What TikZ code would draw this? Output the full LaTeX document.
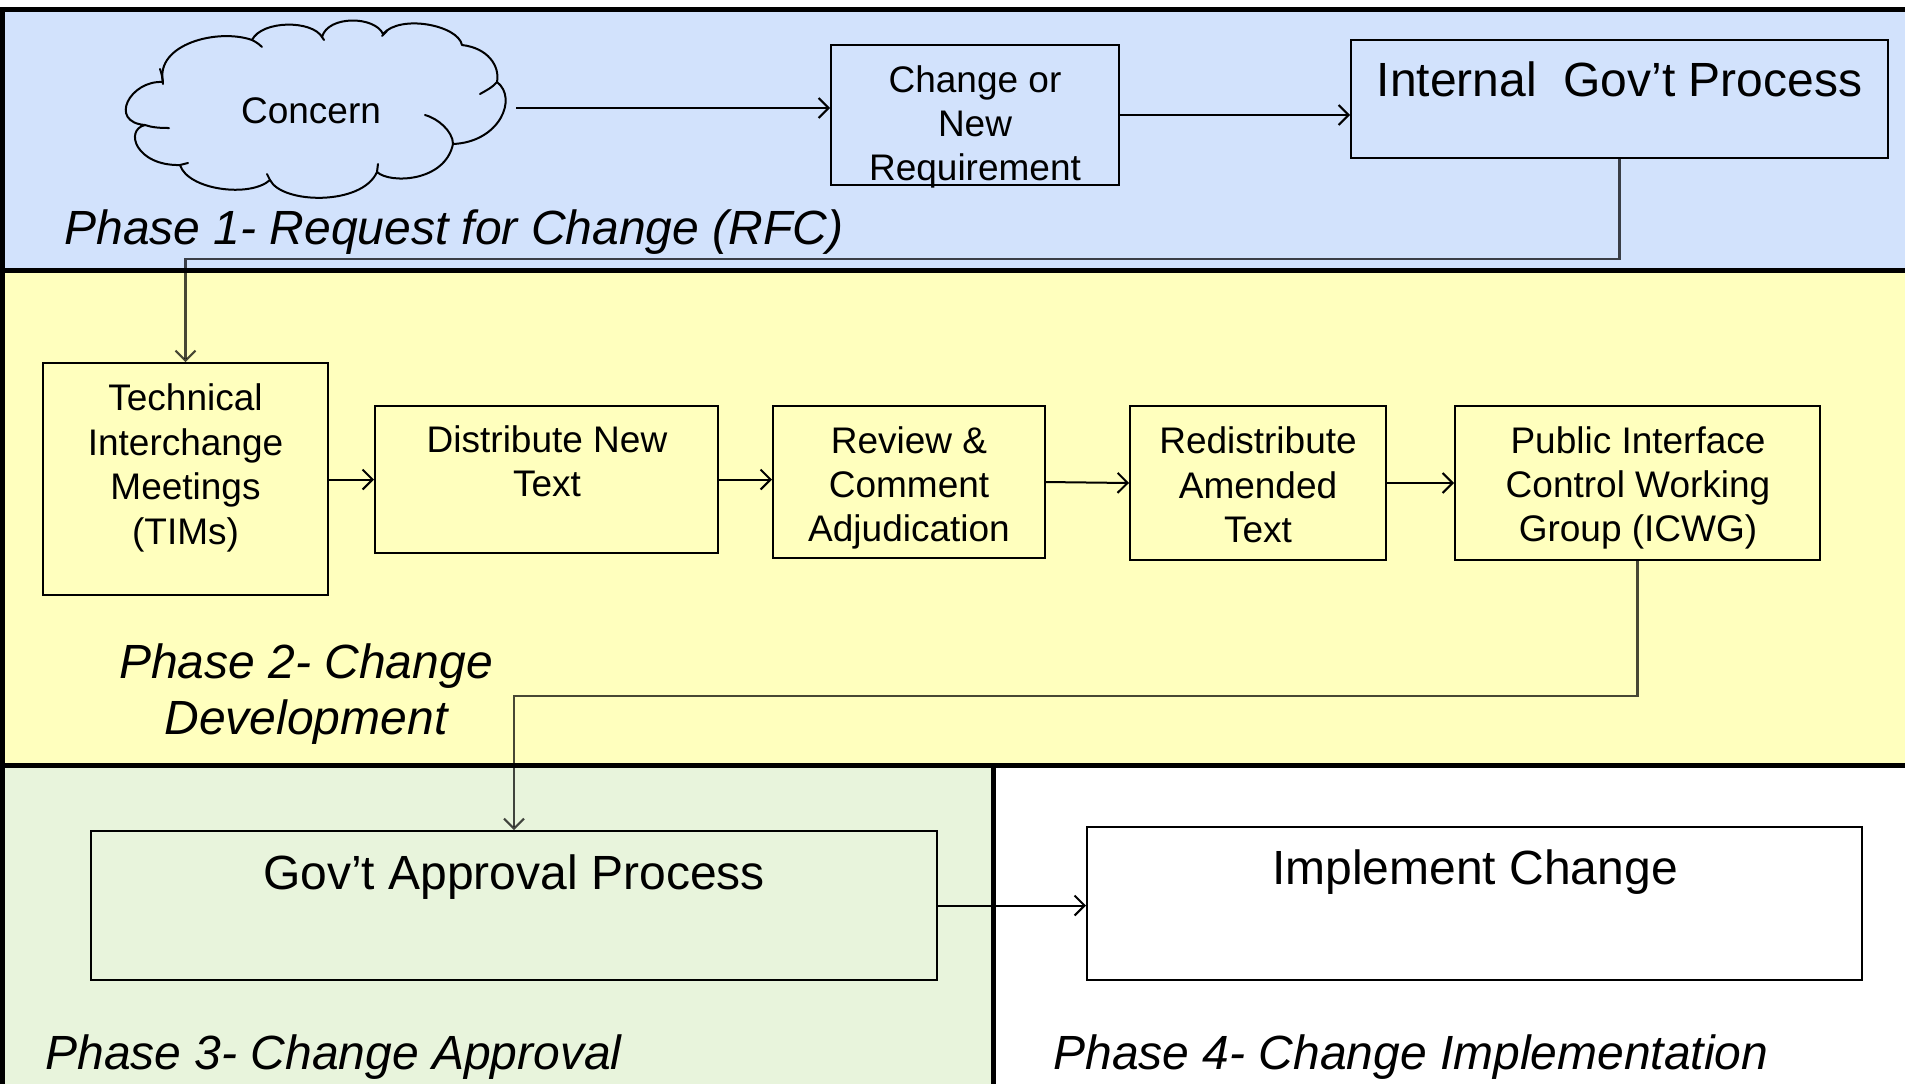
\documentclass[tikz,border=0pt]{standalone}
\usepackage{fontspec}
\setmainfont{Liberation Sans}
\usetikzlibrary{arrows.meta}
\definecolor{phblue}{RGB}{210,226,252}
\definecolor{phyellow}{RGB}{255,255,190}
\definecolor{phgreen}{RGB}{232,244,220}
\begin{document}
\begin{tikzpicture}[x=0.5pt,y=-0.5pt,
  box/.style={draw=black,line width=1pt,inner sep=0pt},
  txt/.style={font=\fontsize{18.5}{22.2}\selectfont,align=center,inner sep=0pt},
  bigtxt/.style={font=\fontsize{24}{28}\selectfont,inner sep=0pt},
  phase/.style={font=\fontsize{24}{28}\selectfont\itshape,inner sep=0pt},
  cloudline/.style={line width=1pt,line cap=round,line join=round},
  arr/.style={line width=1pt,-{Straight Barb[length=5pt,width=10pt]}},
  conn/.style={line width=1.05pt,draw=black,draw opacity=0.72,-{Straight Barb[length=5pt,width=10pt]}},
  sep/.style={line width=2.5pt}]
\useasboundingbox (0,0) rectangle (1905,1084);
% backgrounds
\fill[white] (0,0) rectangle (1905,1084);
\fill[phblue] (2,9) rectangle (1905,270);
\fill[phyellow] (2,270) rectangle (1905,765);
\fill[phgreen] (2,765) rectangle (993,1084);
% borders
\draw[sep] (0,9) -- (1905,9);
\draw[sep] (2,9) -- (2,1084);
\draw[sep] (0,270) -- (1905,270);
\draw[sep] (0,765) -- (1905,765);
\draw[sep] (993,765) -- (993,1084);
% phase 1: cloud
\draw[cloudline,fill=phblue] (163,82)
  .. controls (130,80) and (108,122) .. (145,125)
  .. controls (124,130) and (136,166) .. (180,165)
  .. controls (188,190) and (250,198) .. (270,180)
  .. controls (282,204) and (362,206) .. (377,172)
  .. controls (390,184) and (445,182) .. (453,144)
  .. controls (500,142) and (518,98) .. (497,82)
  .. controls (500,66) and (488,48) .. (462,45)
  .. controls (458,25) and (400,14) .. (383,34)
  .. controls (375,16) and (328,15) .. (322,37)
  .. controls (312,20) and (262,20) .. (252,40)
  .. controls (218,28) and (155,44) .. (163,82) -- cycle;
\draw[cloudline] (160,69) .. controls (162,75) .. (163,84);
\draw[cloudline] (145,125) .. controls (152,127.5) and (160,128) .. (169,128);
\draw[cloudline] (180,165) -- (188,163);
\draw[cloudline] (267,174) -- (270,180);
\draw[cloudline] (378,164) -- (377,172);
\draw[cloudline] (425,115) .. controls (437,118) and (453,131) .. (453,144);
\draw[cloudline] (480,94) .. controls (487,90) and (493,87) .. (497,82);
\draw[cloudline] (382,36) -- (387,31);
\draw[cloudline] (322,37) -- (324,40);
\draw[cloudline] (252,40) .. controls (256,42) and (259,44) .. (262,47);
\node[font=\fontsize{18.5}{22.2}\selectfont,inner sep=0pt] (concern) at (311,111) {Concern};
\coordinate (cloudE) at (516,108);
% phase 1: boxes
\node[box,minimum width=144pt,minimum height=70pt] (change) at (975,115) {};
\node[txt] (changet) at (975,127) {Change or\\New\\Requirement};
\node[box,minimum width=268.5pt,minimum height=59pt] (int) at (1619.5,99) {};
\node[bigtxt] (intt) at (1619.5,79) {Internal\ \ Gov’t Process};
\node[phase,anchor=base west] (ph1) at (64,244) {Phase 1- Request for Change (RFC)};
% phase 2
\node[box,minimum width=142.5pt,minimum height=116pt] (tims) at (185.5,479) {};
\node[txt] (timst) at (185.5,468) {Technical\\Interchange\\Meetings\\(TIMs)};
\node[box,minimum width=171.5pt,minimum height=73.5pt] (dist) at (546.5,479.5) {};
\node[txt] (distt) at (547,461.5) {Distribute New\\Text};
\node[box,minimum width=136pt,minimum height=76pt] (rev) at (909,482) {};
\node[txt] (revt) at (909,488) {Review \&\\Comment\\Adjudication};
\node[box,minimum width=128pt,minimum height=77pt] (redist) at (1258,483) {};
\node[txt] (redistt) at (1258,485) {Redistribute\\Amended\\Text};
\node[box,minimum width=182.5pt,minimum height=77pt] (icwg) at (1637.5,483) {};
\node[txt] (icwgt) at (1638,488) {Public Interface\\Control Working\\Group (ICWG)};
\node[phase,align=center] (ph2) at (306,694) {Phase 2- Change\\Development};
% phase 3 and 4
\node[box,minimum width=423pt,minimum height=74.5pt] (gov) at (514,905.5) {};
\node[bigtxt] (govt) at (514,877) {Gov’t Approval Process};
\node[box,minimum width=387.5pt,minimum height=76.5pt] (impl) at (1474.5,903.5) {};
\node[bigtxt] (implt) at (1475,872) {Implement Change};
\node[phase,anchor=base west] (ph3) at (45,1069) {Phase 3- Change Approval};
\node[phase,anchor=base west] (ph4) at (1053,1069) {Phase 4- Change Implementation};
% connectors
\coordinate (k1) at (0,259);
\coordinate (k2) at (0,696);
\draw[arr] (cloudE) -- (change.west |- cloudE);
\draw[arr] (change.east) -- (int.west |- change.east);
\draw[conn] (int.south) -- (int.south |- k1) -| (tims.north);
\draw[arr] (tims.east |- dist.west) -- (dist.west);
\draw[arr] (dist.east) -- (rev.west |- dist.east);
\draw[arr] (rev.east) -- (redist.west);
\draw[arr] (redist.east) -- (icwg.west);
\draw[conn] (icwg.south) -- (icwg.south |- k2) -| (gov.north);
\draw[arr] (gov.east) -- (impl.west |- gov.east);
\end{tikzpicture}
\end{document}
